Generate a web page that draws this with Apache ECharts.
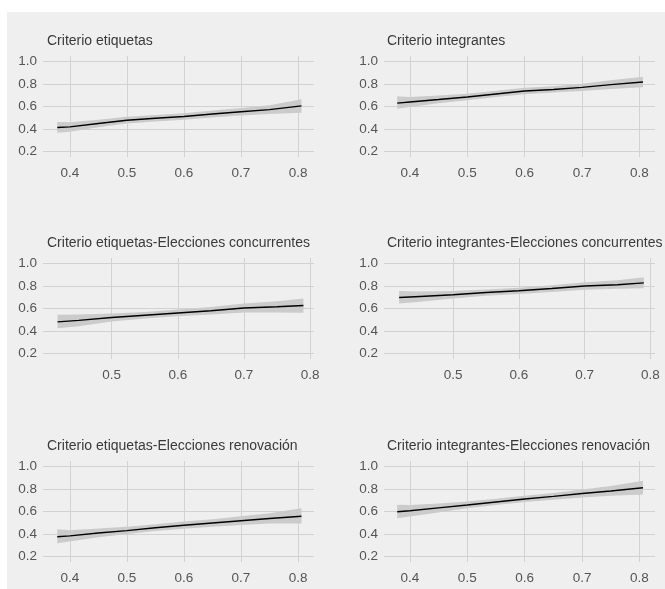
<!DOCTYPE html>
<html>
<head>
<meta charset="utf-8">
<script src="https://cdn.jsdelivr.net/npm/echarts@6/dist/echarts.min.js"></script>
<style>
html,body{margin:0;padding:0;background:#ffffff;}
#bg{position:absolute;left:7px;top:12px;width:658px;height:577px;background:#efefef;}
#chart{position:absolute;left:0;top:0;width:665px;height:589px;}
</style>
</head>
<body>
<div id="bg"></div>
<div id="chart"></div>
<script>
const xTicksWide = [0.4, 0.5, 0.6, 0.7, 0.8];
const xTicksNarrow = [0.5, 0.6, 0.7, 0.8];
const yTicks = [0.2, 0.4, 0.6, 0.8, 1.0];
const titles = [
  "Criterio etiquetas",
  "Criterio integrantes",
  "Criterio etiquetas-Elecciones concurrentes",
  "Criterio integrantes-Elecciones concurrentes",
  "Criterio etiquetas-Elecciones renovación",
  "Criterio integrantes-Elecciones renovación"
];

const p1X = [0.378, 0.40, 0.45, 0.50, 0.55, 0.60, 0.65, 0.70, 0.75, 0.806];
const p1Fit = [0.413, 0.418, 0.448, 0.478, 0.495, 0.511, 0.533, 0.553, 0.572, 0.606];
const p1Low = [0.365, 0.376, 0.414, 0.448, 0.466, 0.482, 0.502, 0.520, 0.533, 0.545];
const p1High = [0.462, 0.460, 0.482, 0.508, 0.524, 0.540, 0.564, 0.586, 0.611, 0.664];

const p2X = [0.378, 0.40, 0.45, 0.50, 0.55, 0.60, 0.65, 0.70, 0.75, 0.806];
const p2Fit = [0.630, 0.640, 0.662, 0.685, 0.712, 0.738, 0.752, 0.770, 0.795, 0.818];
const p2Low = [0.580, 0.595, 0.628, 0.656, 0.684, 0.710, 0.724, 0.738, 0.756, 0.772];
const p2High = [0.692, 0.685, 0.697, 0.714, 0.740, 0.766, 0.781, 0.802, 0.834, 0.866];

const p3X = [0.418, 0.45, 0.50, 0.55, 0.60, 0.65, 0.70, 0.75, 0.79];
const p3Fit = [0.481, 0.494, 0.520, 0.540, 0.560, 0.580, 0.604, 0.615, 0.627];
const p3Low = [0.424, 0.442, 0.484, 0.512, 0.530, 0.546, 0.565, 0.565, 0.562];
const p3High = [0.545, 0.546, 0.556, 0.568, 0.590, 0.614, 0.645, 0.665, 0.690];

const p4X = [0.418, 0.45, 0.50, 0.55, 0.60, 0.65, 0.70, 0.75, 0.79];
const p4Fit = [0.698, 0.707, 0.722, 0.742, 0.758, 0.778, 0.800, 0.812, 0.828];
const p4Low = [0.645, 0.661, 0.688, 0.714, 0.730, 0.748, 0.766, 0.775, 0.780];
const p4High = [0.757, 0.752, 0.756, 0.770, 0.786, 0.808, 0.834, 0.852, 0.878];

const p5X = [0.378, 0.40, 0.45, 0.50, 0.55, 0.60, 0.65, 0.70, 0.75, 0.806];
const p5Fit = [0.375, 0.383, 0.408, 0.430, 0.455, 0.478, 0.498, 0.518, 0.537, 0.558];
const p5Low = [0.318, 0.332, 0.370, 0.399, 0.426, 0.447, 0.465, 0.480, 0.492, 0.492];
const p5High = [0.442, 0.434, 0.448, 0.463, 0.486, 0.510, 0.532, 0.557, 0.584, 0.628];

const p6X = [0.378, 0.40, 0.45, 0.50, 0.55, 0.60, 0.65, 0.70, 0.75, 0.806];
const p6Fit = [0.598, 0.607, 0.632, 0.658, 0.685, 0.712, 0.735, 0.760, 0.783, 0.812];
const p6Low = [0.540, 0.555, 0.592, 0.628, 0.657, 0.684, 0.705, 0.724, 0.740, 0.752];
const p6High = [0.660, 0.657, 0.671, 0.689, 0.713, 0.740, 0.765, 0.795, 0.827, 0.873];

const panels = [
  {x: p1X, fit: p1Fit, low: p1Low, high: p1High, xmin: 0.353, xmax: 0.828, ticks: xTicksWide},
  {x: p2X, fit: p2Fit, low: p2Low, high: p2High, xmin: 0.355, xmax: 0.827, ticks: xTicksWide},
  {x: p3X, fit: p3Fit, low: p3Low, high: p3High, xmin: 0.396, xmax: 0.806, ticks: xTicksNarrow},
  {x: p4X, fit: p4Fit, low: p4Low, high: p4High, xmin: 0.395, xmax: 0.807, ticks: xTicksNarrow},
  {x: p5X, fit: p5Fit, low: p5Low, high: p5High, xmin: 0.353, xmax: 0.828, ticks: xTicksWide},
  {x: p6X, fit: p6Fit, low: p6Low, high: p6High, xmin: 0.355, xmax: 0.827, ticks: xTicksWide}
];

const colLeft = [43, 384];
const colWidth = 271;
const rowTop = [56, 258, 461];
const gridHeight = 101;
const titleTop = [34, 236, 439];
const titleLeft = [47, 387];

const FONT = "'Liberation Sans', Arial, sans-serif";
const grids = [], xAxes = [], yAxes = [], series = [], titleComps = [];

panels.forEach((p, i) => {
  const c = i % 2, r = Math.floor(i / 2);
  grids.push({left: colLeft[c], top: rowTop[r], width: colWidth, height: gridHeight});
  titleComps.push({
    text: titles[i], left: titleLeft[c], top: titleTop[r], padding: 0,
    textStyle: {fontFamily: FONT, fontSize: 14, fontWeight: 'normal', color: '#3a3a3a'}
  });
  xAxes.push({
    type: 'value', gridIndex: i, min: p.xmin, max: p.xmax,
    axisLine: {show: false},
    axisTick: {show: false, customValues: p.ticks},
    axisLabel: {customValues: p.ticks, margin: 9, fontFamily: FONT, fontSize: 13.5, color: '#555',
      formatter: v => v.toFixed(1)},
    splitLine: {show: true, lineStyle: {color: '#d2d2d2', width: 1}}
  });
  yAxes.push({
    type: 'value', gridIndex: i, min: 0.15, max: 1.05,
    axisLine: {show: false},
    axisTick: {show: false, customValues: yTicks},
    axisLabel: {customValues: yTicks, margin: 6, fontFamily: FONT, fontSize: 13.5, color: '#555',
      formatter: v => v.toFixed(1)},
    splitLine: {show: true, lineStyle: {color: '#d2d2d2', width: 1}}
  });
  const bandData = p.x.map((x, k) => [x, p.low[k], p.high[k]]);
  series.push({
    type: 'custom', xAxisIndex: i, yAxisIndex: i, silent: true, z: 2,
    data: bandData,
    renderItem: (params, api) => {
      if (params.dataIndex !== 0) return;
      const upper = p.x.map((x, k) => api.coord([x, p.high[k]]));
      const lower = p.x.map((x, k) => api.coord([x, p.low[k]])).reverse();
      return {type: 'polygon', shape: {points: upper.concat(lower)},
        style: {fill: '#cbcbcb', stroke: null}};
    }
  });
  series.push({
    type: 'line', xAxisIndex: i, yAxisIndex: i, z: 3, symbol: 'none', silent: true,
    data: p.x.map((x, k) => [x, p.fit[k]]),
    lineStyle: {color: '#000', width: 1.4}
  });
});

const chart = echarts.init(document.getElementById('chart'), null, {renderer: 'canvas'});
chart.setOption({
  animation: false,
  backgroundColor: 'transparent',
  title: titleComps,
  grid: grids,
  xAxis: xAxes,
  yAxis: yAxes,
  series: series
});
</script>
</body>
</html>
